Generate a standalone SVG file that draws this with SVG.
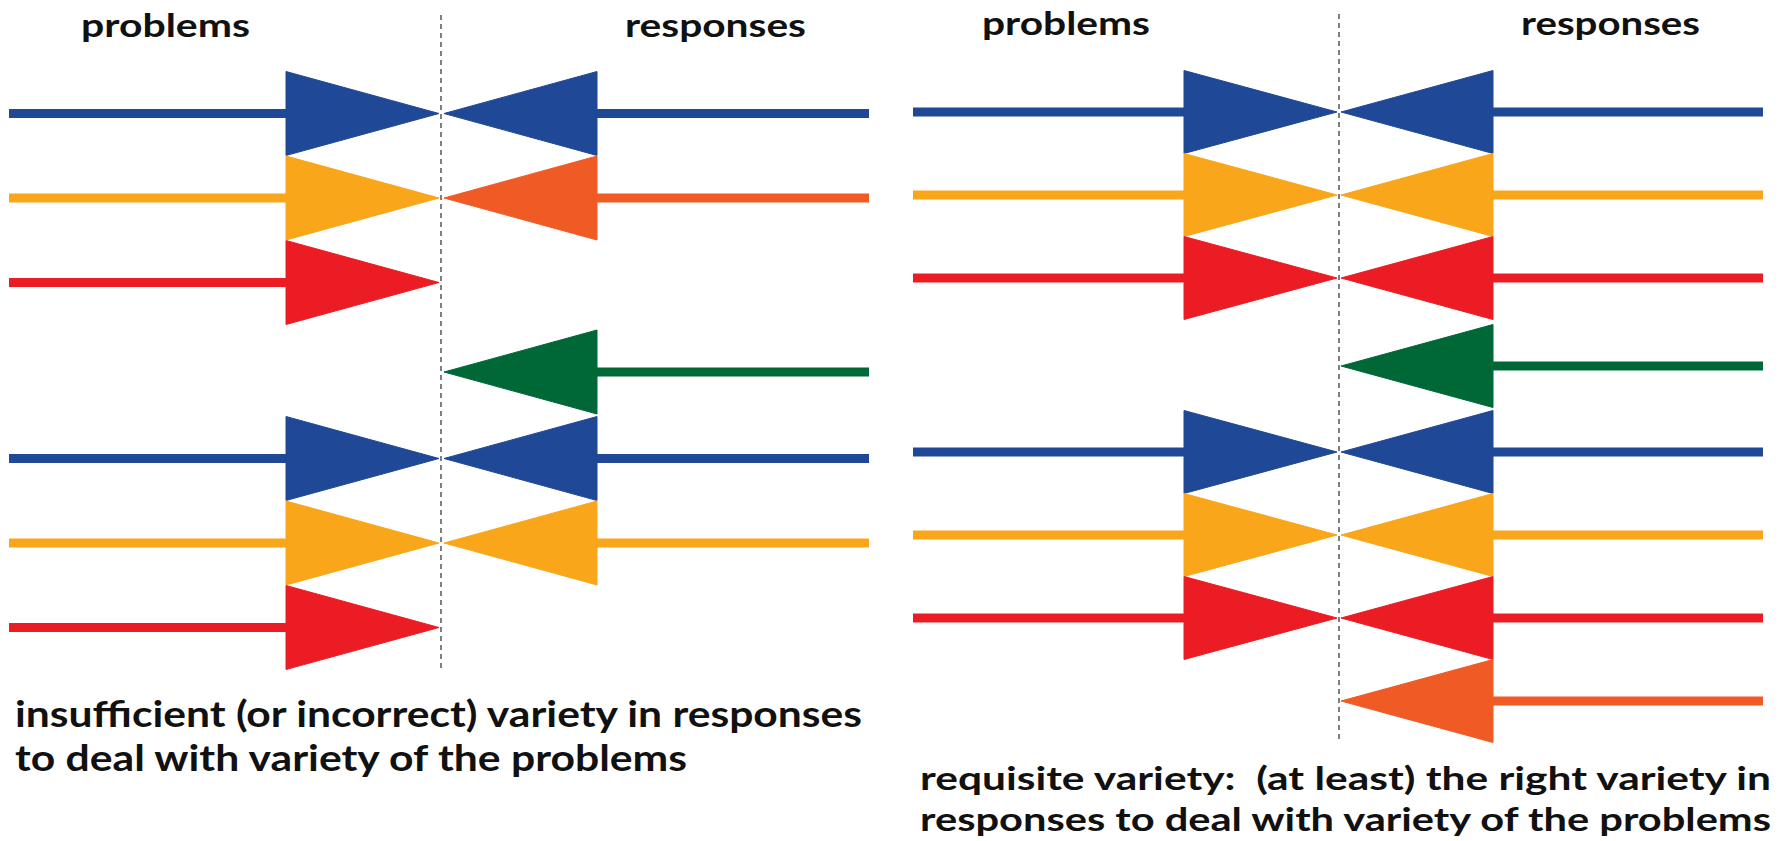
<svg xmlns="http://www.w3.org/2000/svg" width="1789" height="841" viewBox="0 0 1789 841">
<style>
.t{font-family:Lato,"Open Sans","Liberation Sans",sans-serif;font-weight:700;fill:#111;}
.h{font-size:33px;}
.c{font-size:36px;}
.c2{font-size:33px;}
.d{stroke:#555;stroke-width:1.5;stroke-dasharray:5 4;fill:none;}
.bl{fill:#1F4896;stroke:#1F4896;}
.ye{fill:#F9A61A;stroke:#F9A61A;}
.or{fill:#F05A24;stroke:#F05A24;}
.re{fill:#EC1C24;stroke:#EC1C24;}
.gr{fill:#006837;stroke:#006837;}
line{stroke-width:9;}
polygon{stroke:none;}
</style>
<rect width="1789" height="841" fill="#fff"/>

<g id="left-panel">
  <text class="t h" x="81" y="37" textLength="169" lengthAdjust="spacingAndGlyphs">problems</text>
  <text class="t h" x="625" y="37" textLength="181" lengthAdjust="spacingAndGlyphs">responses</text>
  <line class="d" x1="441" y1="15" x2="441" y2="671"/>
</g>

<g id="connectors-left">
  <g id="L1p"><line class="bl" x1="9" y1="113.5" x2="290" y2="113.5"/><polygon class="bl" points="286,71.5 286,155.5 439,113.5"/></g>
  <g id="L1r"><line class="bl" x1="593" y1="113.5" x2="869" y2="113.5"/><polygon class="bl" points="597,71.5 597,155.5 444,113.5"/></g>
  <g id="L2p"><line class="ye" x1="9" y1="198" x2="290" y2="198"/><polygon class="ye" points="286,156 286,240 439,198"/></g>
  <g id="L2r"><line class="or" x1="593" y1="198" x2="869" y2="198"/><polygon class="or" points="597,156 597,240 444,198"/></g>
  <g id="L3p"><line class="re" x1="9" y1="282.5" x2="290" y2="282.5"/><polygon class="re" points="286,240.5 286,324.5 439,282.5"/></g>
  <g id="L4r"><line class="gr" x1="593" y1="372" x2="869" y2="372"/><polygon class="gr" points="597,330 597,414 444,372"/></g>
  <g id="L5p"><line class="bl" x1="9" y1="458.5" x2="290" y2="458.5"/><polygon class="bl" points="286,416.5 286,500.5 439,458.5"/></g>
  <g id="L5r"><line class="bl" x1="593" y1="458.5" x2="869" y2="458.5"/><polygon class="bl" points="597,416.5 597,500.5 444,458.5"/></g>
  <g id="L6p"><line class="ye" x1="9" y1="543" x2="290" y2="543"/><polygon class="ye" points="286,501 286,585 439,543"/></g>
  <g id="L6r"><line class="ye" x1="593" y1="543" x2="869" y2="543"/><polygon class="ye" points="597,501 597,585 444,543"/></g>
  <g id="L7p"><line class="re" x1="9" y1="627.5" x2="290" y2="627.5"/><polygon class="re" points="286,585.5 286,669.5 439,627.5"/></g>
</g>

<g id="left-caption">
  <text class="t c" x="15" y="727" textLength="847" lengthAdjust="spacingAndGlyphs">insufficient (or incorrect) variety in responses</text>
  <text class="t c" x="15" y="771" textLength="672" lengthAdjust="spacingAndGlyphs">to deal with variety of the problems</text>
</g>

<g id="right-panel">
  <text class="t h" x="982" y="35" textLength="168" lengthAdjust="spacingAndGlyphs">problems</text>
  <text class="t h" x="1521" y="35" textLength="179" lengthAdjust="spacingAndGlyphs">responses</text>
  <line class="d" x1="1339" y1="14" x2="1339" y2="743"/>
</g>

<g id="connectors-right">
  <g id="R1p"><line class="bl" x1="913" y1="112" x2="1188" y2="112"/><polygon class="bl" points="1184,70.5 1184,153.5 1337,112"/></g>
  <g id="R1r"><line class="bl" x1="1489" y1="112" x2="1763" y2="112"/><polygon class="bl" points="1493,70.5 1493,153.5 1341,112"/></g>
  <g id="R2p"><line class="ye" x1="913" y1="195" x2="1188" y2="195"/><polygon class="ye" points="1184,153.5 1184,236.5 1337,195"/></g>
  <g id="R2r"><line class="ye" x1="1489" y1="195" x2="1763" y2="195"/><polygon class="ye" points="1493,153.5 1493,236.5 1341,195"/></g>
  <g id="R3p"><line class="re" x1="913" y1="278" x2="1188" y2="278"/><polygon class="re" points="1184,236.5 1184,319.5 1337,278"/></g>
  <g id="R3r"><line class="re" x1="1489" y1="278" x2="1763" y2="278"/><polygon class="re" points="1493,236.5 1493,319.5 1341,278"/></g>
  <g id="R4r"><line class="gr" x1="1489" y1="366" x2="1763" y2="366"/><polygon class="gr" points="1493,324.5 1493,407.5 1341,366"/></g>
  <g id="R5p"><line class="bl" x1="913" y1="452" x2="1188" y2="452"/><polygon class="bl" points="1184,410.5 1184,493.5 1337,452"/></g>
  <g id="R5r"><line class="bl" x1="1489" y1="452" x2="1763" y2="452"/><polygon class="bl" points="1493,410.5 1493,493.5 1341,452"/></g>
  <g id="R6p"><line class="ye" x1="913" y1="535" x2="1188" y2="535"/><polygon class="ye" points="1184,493.5 1184,576.5 1337,535"/></g>
  <g id="R6r"><line class="ye" x1="1489" y1="535" x2="1763" y2="535"/><polygon class="ye" points="1493,493.5 1493,576.5 1341,535"/></g>
  <g id="R7p"><line class="re" x1="913" y1="618" x2="1188" y2="618"/><polygon class="re" points="1184,576.5 1184,659.5 1337,618"/></g>
  <g id="R7r"><line class="re" x1="1489" y1="618" x2="1763" y2="618"/><polygon class="re" points="1493,576.5 1493,659.5 1341,618"/></g>
  <g id="R8r"><line class="or" x1="1489" y1="701" x2="1763" y2="701"/><polygon class="or" points="1493,659.5 1493,742.5 1341,701"/></g>
</g>

<g id="right-caption">
  <text class="t c2" x="920" y="790" textLength="851" lengthAdjust="spacingAndGlyphs" xml:space="preserve">requisite variety:  (at least) the right variety in</text>
  <text class="t c2" x="920" y="831" textLength="851" lengthAdjust="spacingAndGlyphs">responses to deal with variety of the problems</text>
</g>
</svg>
